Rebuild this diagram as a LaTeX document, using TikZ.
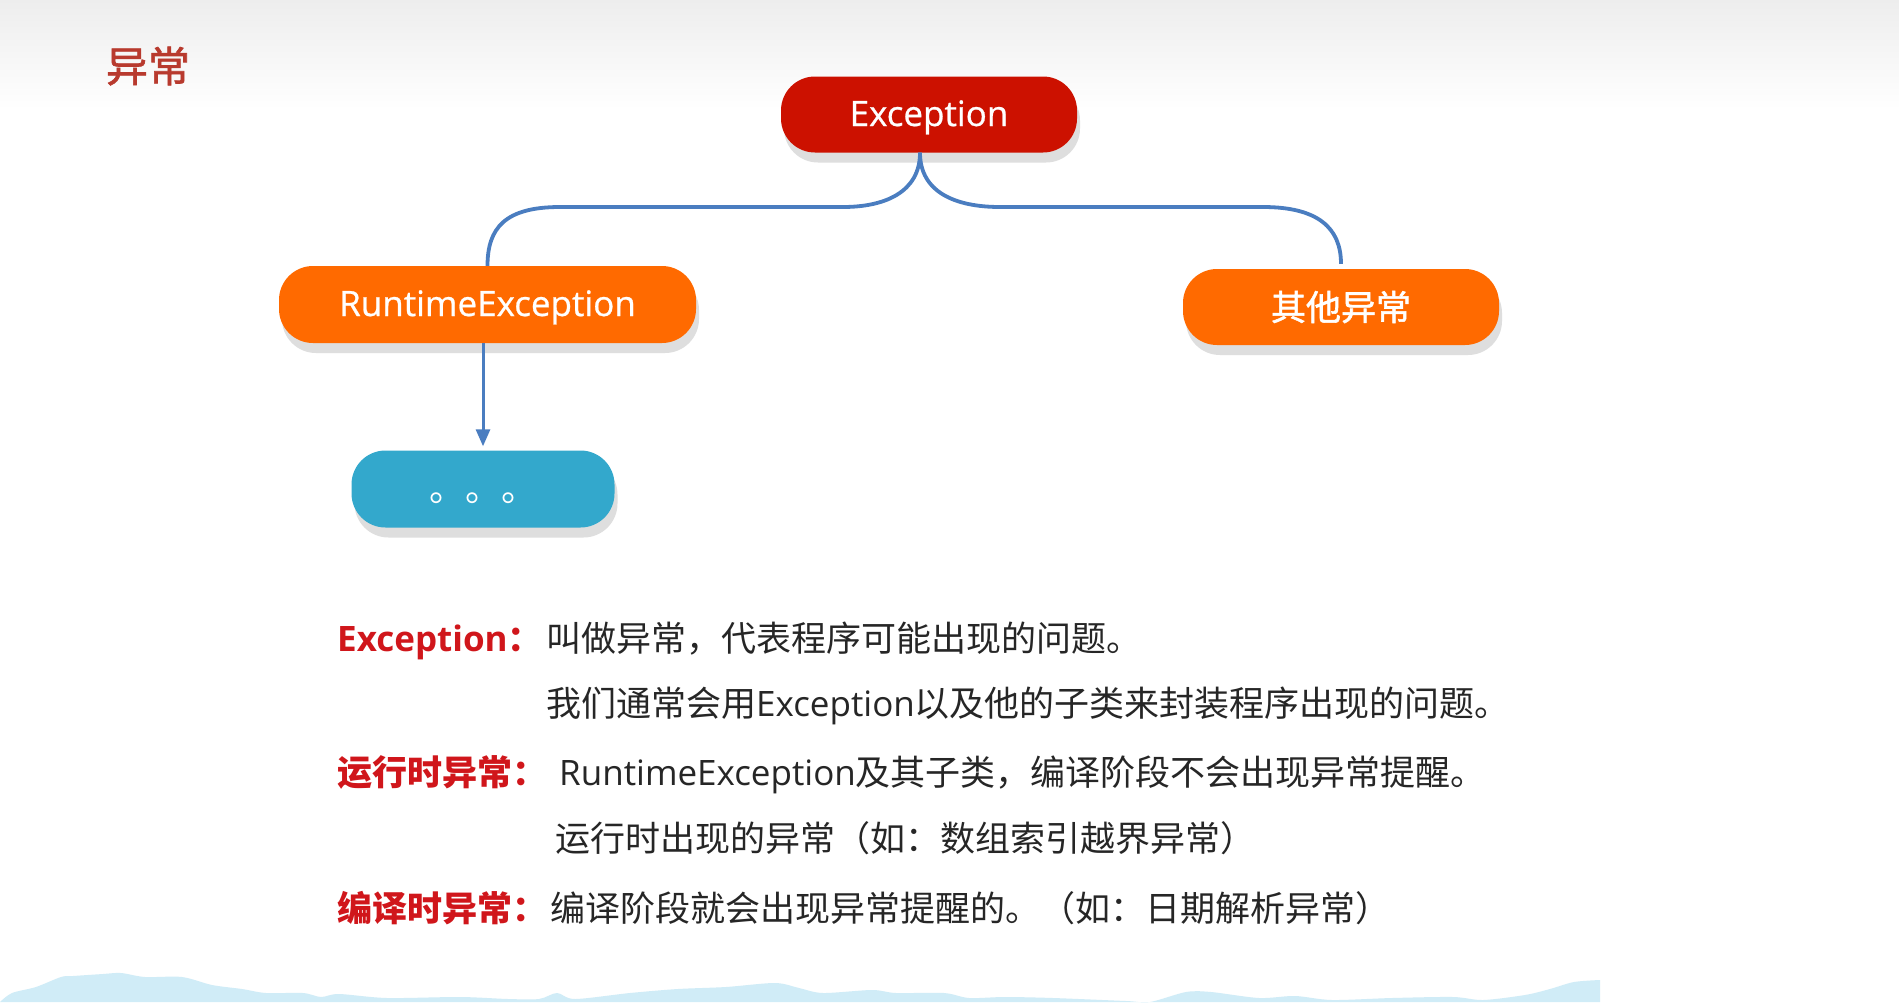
\documentclass[tikz,border=0pt]{standalone}
\usepackage{fontspec}
\setmainfont{Noto Sans CJK SC}
\newfontfamily\cjkmed[FakeBold=1.6]{Noto Sans CJK SC}
\newfontfamily\latinnode{Open Sans}
\newfontfamily\latinnodem[FakeBold=0.7]{Open Sans}
\usetikzlibrary{shadows,arrows.meta}
\definecolor{excred}{HTML}{CC1100}
\definecolor{orng}{HTML}{FF6A00}
\definecolor{dotblue}{HTML}{33A8CC}
\definecolor{linkblue}{HTML}{4A7DC0}
\definecolor{titlered}{HTML}{B83A2E}
\definecolor{labelred}{HTML}{D0161B}
\definecolor{bodytext}{HTML}{262626}
\definecolor{mount}{HTML}{D0ECF7}
\begin{document}
\begin{tikzpicture}[x=1pt,y=-1pt,
  pill/.style={rounded corners=34pt, text=white, inner sep=0pt,
    drop shadow={shadow xshift=3pt, shadow yshift=-10pt, fill=black!13, opacity=1}},
  lattxt/.style={font=\latinnodem\fontsize{35}{42}\selectfont, text height=31pt, text depth=8pt},
  link/.style={draw=linkblue, line width=3.8pt},
  body/.style={anchor=base west, inner sep=0pt, font=\fontsize{35}{42}\selectfont, text=bodytext},
  lbl/.style={anchor=base west, inner sep=0pt, font=\fontsize{35}{42}\selectfont\bfseries, text=labelred},
]
\useasboundingbox (0,0) rectangle (1899,1002);
\fill[white] (0,0) rectangle (1899,1002);
\shade[top color=black!7, bottom color=white] (0,0) rectangle (1899,110);
% bottom silhouette
\fill[mount] plot[smooth, tension=0.5] coordinates {(0,1002) (12,993) (36,987) (61,977) (73,976) (103,974) (121,973) (145,977) (182,977) (212,985) (242,989) (266,993) (303,993) (321,997) (339,994) (387,998) (460,997) (508,999) (539,999) (557,993) (575,999) (630,993) (678,989) (726,987) (775,983) (799,988) (823,993) (872,990) (896,993) (944,993) (969,998) (1005,997) (1053,998) (1126,1001) (1150,1002) (1186,992) (1211,992) (1259,998) (1295,996) (1332,1000) (1392,998) (1453,997) (1483,1000) (1525,995) (1550,989) (1574,982) (1600,980)} -- (1600,1002) -- cycle;

\node[font=\cjkmed\fontsize{42}{48}\selectfont, text=titlered] (title) at (148,66) {异常};

\node[pill, fill=excred, minimum width=296pt, minimum height=76pt, lattxt] (exc) at (929,114.5) {Exception};
\node[pill, fill=orng, minimum width=417pt, minimum height=77pt, lattxt] (rte) at (487.5,304.5) {RuntimeException};
\node[pill, fill=orng, minimum width=316pt, minimum height=76pt, font=\cjkmed\fontsize{35}{42}\selectfont] (oth) at (1341,307) {其他异常};
\node[pill, fill=dotblue, minimum width=263pt, minimum height=77pt, font=\fontsize{36}{42}\selectfont] (dots) at (483,489) {\vphantom{异}。。。};

\coordinate (ej) at ([xshift=-9pt]exc.south);
\draw[link] (ej) .. controls (920,192) and (885,207) .. (843,207) -- (560,207) .. controls (505,207) and (487.5,228) .. (rte.north);
\draw[link] (ej) .. controls (920,192) and (955,207) .. (1000,207) -- (1263,207) .. controls (1318,207) and (1341,228) .. ([yshift=5pt]oth.north);
\draw[link, line width=3pt, -{Triangle[length=17pt,width=14pt]}] ([xshift=-4.5pt]rte.south) -- ([yshift=4pt]dots.north);

\node[lbl] (l1) at (337,651) {{\latinnode\bfseries Exception}：};
\node[body] (t1) at (546,651) {叫做异常，代表程序可能出现的问题。};
\node[body] (t2) at (546,716) {我们通常会用{\latinnode Exception}以及他的子类来封装程序出现的问题。};
\node[lbl] (l2) at (337,785) {运行时异常：};
\node[body] (t3) at (559,785) {{\latinnode RuntimeException}及其子类，编译阶段不会出现异常提醒。};
\node[body] (t4) at (555,851) {运行时出现的异常（如：数组索引越界异常）};
\node[lbl] (l3) at (337,921) {编译时异常：};
\node[body] (t5) at (550,921) {编译阶段就会出现异常提醒的。（如：日期解析异常）};
\end{tikzpicture}
\end{document}
